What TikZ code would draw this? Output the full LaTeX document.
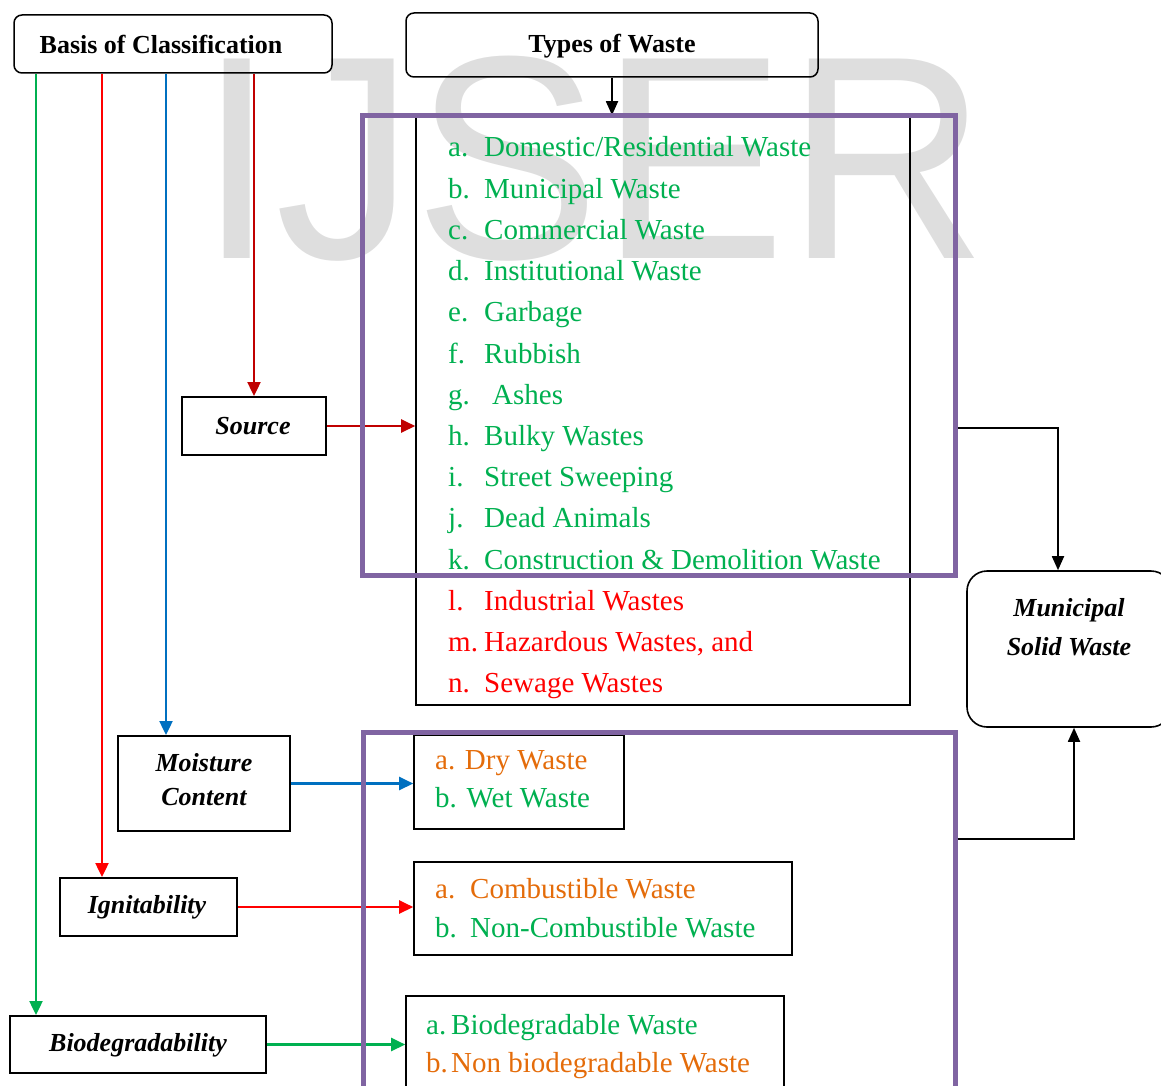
\documentclass[tikz,border=0pt]{standalone}
\usepackage{fontspec}
\setmainfont{Liberation Serif}
\newfontfamily\wmfont{Liberation Sans}
\usetikzlibrary{arrows.meta}
\definecolor{cgreen}{RGB}{0,176,80}
\definecolor{cred}{RGB}{255,0,0}
\definecolor{cdred}{RGB}{192,0,0}
\definecolor{cblue}{RGB}{0,112,192}
\definecolor{corange}{RGB}{228,108,10}
\definecolor{cpurple}{RGB}{128,100,162}
\definecolor{wmgray}{RGB}{222,222,222}
\begin{document}
\begin{tikzpicture}[x=1pt,y=-1pt,
  rbox/.style={draw, line width=1.5pt, rounded corners=8pt, inner sep=0pt},
  sbox/.style={draw, line width=2pt, inner sep=0pt},
  lbox/.style={draw, line width=1.6pt, inner sep=0pt},
  pframe/.style={draw=cpurple, line width=5pt, inner sep=0pt},
  head/.style={font=\fontsize{26}{30}\selectfont\bfseries, anchor=base, inner sep=0pt},
  cat/.style={font=\fontsize{26}{30}\selectfont\bfseries\itshape, anchor=base, inner sep=0pt},
  lab/.style={font=\fontsize{29}{34}\selectfont, anchor=base west, inner sep=0pt},
  conn/.style={line width=2.4pt, -{Triangle[length=14pt,width=13pt]}},
  bconn/.style={line width=1.8pt, -{Triangle[length=14pt,width=12pt]}},
]
\useasboundingbox (0,0) rectangle (1161,1086);
\clip (0,0) rectangle (1161,1086);

% watermark
\node[anchor=base west, inner sep=0pt, text=wmgray, xscale=0.96, transform shape,
      font=\wmfont\fontsize{290}{290}\selectfont] (wmark) at (198,258) {IJSER};

% boxes
\node[rbox, minimum width=318pt, minimum height=58pt] (basis) at (173,44) {};
\node[rbox, minimum width=412pt, minimum height=64pt] (types) at (612,45) {};
\node[lbox, minimum width=494pt, minimum height=589pt] (srclist) at (663,410.5) {};
\node[sbox, minimum width=144pt, minimum height=58pt] (source) at (254,426) {};
\node[sbox, minimum width=172pt, minimum height=95pt] (moist) at (204,783.5) {};
\node[sbox, minimum width=177pt, minimum height=58pt] (ignit) at (148.5,907) {};
\node[sbox, minimum width=256pt, minimum height=57pt] (biodeg) at (138,1044.5) {};
\node[lbox, minimum width=210pt, minimum height=94pt] (drybox) at (519,782) {};
\node[lbox, minimum width=378pt, minimum height=93pt] (combbox) at (603,908.5) {};
\node[lbox, minimum width=378pt, minimum height=104pt] (biobox) at (595,1048) {};
\node[draw, line width=1.6pt, rounded corners=20pt, inner sep=0pt,
      minimum width=204pt, minimum height=156pt] (msw) at (1069,649) {};

% coordinates for vertical feeders
\coordinate (xg) at (36,0);
\coordinate (xr) at (102,0);
\coordinate (xb) at (166,0);
\coordinate (xd) at (254,0);
\coordinate (j1) at (1058,428);
\coordinate (j2) at (1074,839);

% connectors
\draw[bconn] (types.south) -- (types.south |- srclist.north);
\draw[conn, cgreen] (basis.south -| xg) -- (biodeg.north -| xg);
\draw[conn, cred] (basis.south -| xr) -- (ignit.north -| xr);
\draw[conn, cblue] (basis.south -| xb) -- (moist.north -| xb);
\draw[conn, cdred] (basis.south -| xd) -- (source.north -| xd);
\draw[conn, cdred] (source.east) -- (source.east -| srclist.west);
\draw[conn, cblue] (moist.east) -- (moist.east -| drybox.west);
\draw[conn, cred] (ignit.east) -- (ignit.east -| combbox.west);
\draw[conn, cgreen] (biodeg.east) -- (biodeg.east -| biobox.west);

% purple frames
\node[pframe, minimum width=593pt, minimum height=460pt] (pf1) at (658.5,345.5) {};
\node[pframe, minimum width=592pt, minimum height=380pt] (pf2) at (659,922) {};

\draw[bconn] (j1 -| pf1.east) -- (j1) -- (msw.north -| j1);
\draw[bconn] (j2 -| pf2.east) -- (j2) -- (msw.south -| j2);

% headings
\node[head] (tbasis) at (161,54) {Basis of Classification};
\node[head] (ttypes) at (612,53) {Types of Waste};
\node[cat] (tsource) at (253,434) {Source};
\node[cat] (tmoist1) at (204,771) {Moisture};
\node[cat] (tmoist2) at (204,805) {Content};
\node[cat] (tignit) at (147,913) {Ignitability};
\node[cat] (tbio) at (138,1051) {Biodegradability};
\node[cat] (tmsw1) at (1069,616) {Municipal};
\node[cat] (tmsw2) at (1069,655) {Solid Waste};

% source list
\begin{scope}[every node/.style={lab, text=cgreen}]
\node (la) at (448,157.0) {a.}; \node (ia) at (484,157.0) {Domestic/Residential Waste};
\node (lb) at (448,198.2) {b.}; \node (ib) at (484,198.2) {Municipal Waste};
\node (lc) at (448,239.4) {c.}; \node (ic) at (484,239.4) {Commercial Waste};
\node (ld) at (448,280.6) {d.}; \node (id) at (484,280.6) {Institutional Waste};
\node (le) at (448,321.8) {e.}; \node (ie) at (484,321.8) {Garbage};
\node (lf) at (448,363.0) {f.}; \node (if) at (484,363.0) {Rubbish};
\node (lg) at (448,404.2) {g.}; \node (ig) at (492,404.2) {Ashes};
\node (lh) at (448,445.4) {h.}; \node (ih) at (484,445.4) {Bulky Wastes};
\node (li) at (448,486.6) {i.}; \node (ii) at (484,486.6) {Street Sweeping};
\node (lj) at (448,527.8) {j.}; \node (ij) at (484,527.8) {Dead Animals};
\node (lk) at (448,569.0) {k.}; \node (ik) at (484,569.0) {Construction \& Demolition Waste};
\end{scope}
\begin{scope}[every node/.style={lab, text=cred}]
\node (ll) at (448,610.2) {l.}; \node (il) at (484,610.2) {Industrial Wastes};
\node (lm) at (448,651.4) {m.}; \node (im) at (484,651.4) {Hazardous Wastes, and};
\node (ln) at (448,692.6) {n.}; \node (in) at (484,692.6) {Sewage Wastes};
\end{scope}

% moisture list
\node[lab, text=corange] (dry) at (435,769) {a. Dry Waste};
\node[lab, text=cgreen] (wet) at (435,807) {b. Wet Waste};

% ignitability list
\node[lab, text=corange] (lca) at (435,898) {a.};
\node[lab, text=corange] (ica) at (470,898) {Combustible Waste};
\node[lab, text=cgreen] (lcb) at (435,937) {b.};
\node[lab, text=cgreen] (icb) at (470,937) {Non-Combustible Waste};

% biodegradability list
\node[lab, text=cgreen] (lba) at (426,1034) {a.};
\node[lab, text=cgreen] (iba) at (451,1034) {Biodegradable Waste};
\node[lab, text=corange] (lbb) at (426,1072) {b.};
\node[lab, text=corange] (ibb) at (451,1072) {Non biodegradable Waste};
\end{tikzpicture}
\end{document}
